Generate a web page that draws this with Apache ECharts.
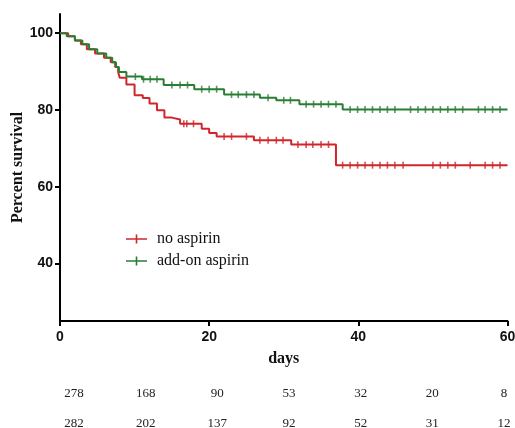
<!DOCTYPE html>
<html>
<head>
<meta charset="utf-8">
<script src="https://cdn.jsdelivr.net/npm/echarts@6/dist/echarts.min.js"></script>
<style>html,body{margin:0;padding:0;background:#fff}#c{width:515px;height:428px}</style>
</head>
<body>
<div id="c"></div>
<script>
// Kaplan-Meier steps: [day, percent survival]
var noAspirinSteps = [[0,100],[1.1,99.2],[2.0,98.1],[2.8,97.1],[3.6,95.8],[4.7,94.7],[5.9,93.6],[6.8,92.4],[7.4,91.2],[7.8,89.9],[8.0,88.4],[8.9,86.6],[10.0,83.8],[11.1,83.1],[12.0,81.7],[13.0,79.9],[14.0,78.0],[15.0,77.5],[16.1,76.4],[19.0,75.1],[20.0,74.0],[21.0,73.1],[26.0,72.1],[31.0,71.0],[37.0,65.6],[60,65.6]];
var addOnSteps = [[0,100],[0.9,99.2],[2.0,98.1],[3.0,97.1],[3.9,95.8],[5.0,94.7],[6.2,93.6],[7.0,92.4],[7.5,91.2],[7.9,89.9],[8.9,88.7],[11.0,88.0],[13.9,86.5],[18.0,85.4],[22.0,84.0],[26.8,83.2],[29.0,82.5],[32.1,81.5],[37.9,80.1],[60,80.1]];
// censored observation times (days)
var noAspirinCensored = [16.6,17.0,17.9,22.0,23.0,25.0,26.8,27.9,29.0,29.9,31.9,33.0,33.9,35.0,36.0,37.9,38.9,39.9,40.9,41.9,42.9,43.9,44.9,46.0,50,51,52,53,55,57,58,59];
var addOnCensored = [10.1,11.2,12.1,13.0,15.0,16.1,17.1,19.0,20.0,21.0,23.0,23.9,25.0,26.0,27.9,30.0,30.9,33,34,35,36,37,38.9,39.9,40.9,41.9,42.9,43.9,44.9,47,48,49,50,51,52,53,54,56.1,57,58,59];
// number at risk
var riskNoAspirin = ['278','168','90','53','32','20','8'];
var riskAddOn = ['282','202','137','92','52','31','12'];
var xTicks = [0,20,40,60];
var yTicks = [40,60,80,100];

var RED = '#d0262b', GREEN = '#2a7d34';
function stepValue(steps, t){
  var v = steps[0][1];
  for (var i=0;i<steps.length;i++){ if (steps[i][0] <= t) v = steps[i][1]; }
  return v;
}
function censorPts(steps, times){ return times.map(function(t){ return [t, stepValue(steps,t)]; }); }

var chart = echarts.init(document.getElementById('c'), null, {renderer:'canvas'});
var icon = 'path://M0,3.7h21v1.6h-21z M9.7,0h1.6v9h-1.6z';
chart.setOption({
  backgroundColor:'#fff',
  animation:false,
  grid:[
    {left:60, right:7.5, top:14, bottom:107, outerBoundsMode:'none', containLabel:false},
    {left:74, right:11, top:385, height:1, outerBoundsMode:'none', containLabel:false}
  ],
  legend:{
    data:[{name:'no aspirin', icon:icon},{name:'add-on aspirin', icon:icon}],
    orient:'vertical', left:121, top:225, itemWidth:21, itemHeight:9, itemGap:4,
    textStyle:{fontFamily:'Liberation Serif', fontSize:16, color:'#111', lineHeight:18, padding:[0,0,0,5]}
  },
  xAxis:[
    {type:'value', gridIndex:0, min:0, max:60, interval:20,
     name:'days', nameLocation:'middle', nameGap:30,
     nameTextStyle:{fontFamily:'Liberation Serif', fontWeight:'bold', fontSize:16, color:'#111'},
     axisLine:{lineStyle:{color:'#000', width:2}},
     axisTick:{show:true, length:5, lineStyle:{color:'#000', width:2}},
     axisLabel:{margin:9, fontFamily:'Liberation Sans', fontWeight:'bold', fontSize:14, color:'#111'},
     splitLine:{show:false}},
    {type:'category', gridIndex:1, data:riskNoAspirin, boundaryGap:false, position:'bottom',
     axisLine:{show:false}, axisTick:{show:false},
     axisLabel:{interval:0, margin:1, fontFamily:'Liberation Serif', fontSize:13, color:'#222'}},
    {type:'category', gridIndex:1, data:riskAddOn, boundaryGap:false, position:'bottom', offset:30,
     axisLine:{show:false}, axisTick:{show:false},
     axisLabel:{interval:0, margin:1, fontFamily:'Liberation Serif', fontSize:13, color:'#222'}}
  ],
  yAxis:[
    {type:'value', gridIndex:0, min:25, max:105,
     name:'Percent survival', nameLocation:'middle', nameGap:42, nameRotate:90, nameMoveOverlap:false,
     nameTextStyle:{fontFamily:'Liberation Serif', fontWeight:'bold', fontSize:16, color:'#111', verticalAlign:'middle'},
     axisLine:{show:true, lineStyle:{color:'#000', width:2}},
     axisTick:{show:true, length:5, customValues:yTicks, lineStyle:{color:'#000', width:2}},
     axisLabel:{margin:7, customValues:yTicks, fontFamily:'Liberation Sans', fontWeight:'bold', fontSize:14, color:'#111'},
     splitLine:{show:false}},
    {type:'value', gridIndex:1, show:false}
  ],
  series:[
    {name:'no aspirin', type:'line', step:'end', data:noAspirinSteps, symbol:'none',
     lineStyle:{color:RED, width:2}, itemStyle:{color:RED}, z:2},
    {name:'add-on aspirin', type:'line', step:'end', data:addOnSteps, symbol:'none',
     lineStyle:{color:GREEN, width:2}, itemStyle:{color:GREEN}, z:3},
    {name:'no aspirin censored', type:'scatter', data:censorPts(noAspirinSteps, noAspirinCensored),
     symbol:'rect', symbolSize:[1.6,7], itemStyle:{color:RED}, z:4, silent:true},
    {name:'add-on aspirin censored', type:'scatter', data:censorPts(addOnSteps, addOnCensored),
     symbol:'rect', symbolSize:[1.6,7], itemStyle:{color:GREEN}, z:4, silent:true}
  ]
});
</script>
</body>
</html>
